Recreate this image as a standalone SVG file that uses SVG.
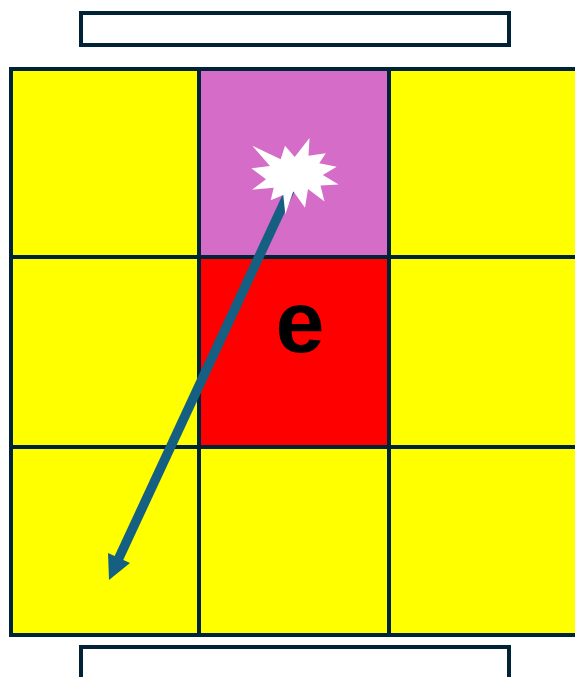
<svg xmlns="http://www.w3.org/2000/svg" width="575" height="677" viewBox="0 0 575 677">
<style>
.b{fill:#fff;stroke:#002337;stroke-width:4}
.c{stroke:#002337;stroke-width:4;stroke-linecap:butt}
.y{fill:#ff0}
</style>
<rect width="575" height="677" fill="#fff"/>
<g id="top-box"><rect class="b" x="81" y="13" width="428" height="32"/></g>
<g id="bottom-box"><path class="b" d="M81 680V647H509V680"/></g>
<g id="grid">
<rect class="y" x="11" y="69" width="570" height="566"/>
<rect id="cell-magenta" x="199" y="69" width="190" height="188" fill="#d56cc8"/>
<rect id="cell-red" x="199" y="257" width="190" height="190" fill="#f00"/>
<path class="c" d="M199 69V635M389 69V635M11 257H575M11 447H575"/>
<path fill="none" stroke="#002337" stroke-width="4" d="M580 69H11V635H580"/>
</g>
<g id="connectors">
<path d="M290 190L118 560" stroke="#156082" stroke-width="9.500" fill="none"/>
<polygon points="109,580 108,553 130,563" fill="#156082"/>
</g>
<g id="star"><polygon fill="#fff" points="252.300,145.700 280.700,159.300 285,145.700 294.700,157 309.500,138 308.500,155.700 325.800,153.300 319.200,163.300 336.700,166.700 322.800,175 338.700,184.500 320.500,185.500 324.500,201.500 308,189 305,207.700 293.300,191.300 285.300,214.300 283.300,195 270.700,200.300 273.700,187.700 252,189.700 266,179.300 251.300,168.300 270,166"/></g>
<g id="label"><text x="300" y="352" font-family="'Liberation Sans',Arial,sans-serif" font-weight="700" font-size="88" text-anchor="middle" fill="#000">e</text></g>
</svg>
